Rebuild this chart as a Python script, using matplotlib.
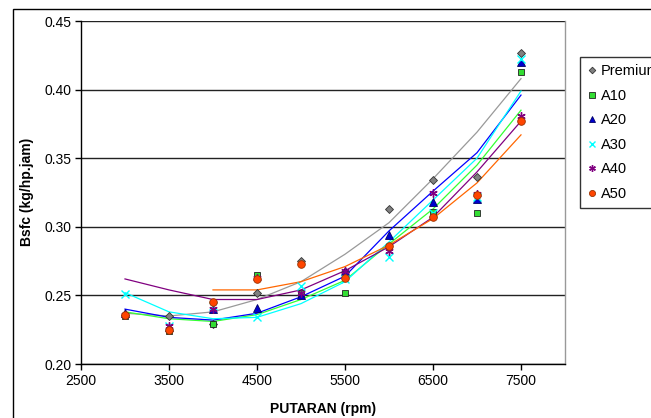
import matplotlib
matplotlib.use("Agg")
import matplotlib.pyplot as plt
import matplotlib.patches as patches

plt.rcParams['font.family'] = ['Liberation Sans', 'DejaVu Sans']

# Measured points (rpm vs bsfc)
rpm = [3000, 3500, 4000, 4500, 5000, 5500, 6000, 6500, 7000, 7500]
premium = [0.236, 0.235, 0.229, 0.252, 0.275, 0.267, 0.313, 0.334, 0.336, 0.427]
a10 = [0.235, 0.224, 0.229, 0.265, 0.252, 0.252, 0.285, 0.311, 0.310, 0.413]
a20 = [0.237, 0.227, 0.240, 0.241, 0.250, 0.268, 0.294, 0.318, 0.320, 0.420]
a30 = [0.251, 0.228, 0.242, 0.234, 0.257, 0.262, 0.278, 0.310, 0.322, 0.422]
a40 = [0.236, 0.228, 0.240, 0.263, 0.252, 0.268, 0.282, 0.325, 0.324, 0.381]
a50 = [0.236, 0.225, 0.245, 0.262, 0.273, 0.263, 0.286, 0.307, 0.323, 0.377]

# Trendlines
trend_rpm = [3000, 3500, 4000, 4500, 5000, 5500, 6000, 6500, 7000, 7500]
trend_rpm_a50 = [4000, 4500, 5000, 5500, 6000, 6500, 7000, 7500]
trend_premium = [0.237, 0.235, 0.238, 0.247, 0.260, 0.280, 0.303, 0.335, 0.369, 0.408]
trend_a10 = [0.238, 0.233, 0.231, 0.236, 0.247, 0.261, 0.2875, 0.313, 0.345, 0.385]
trend_a20 = [0.240, 0.234, 0.232, 0.237, 0.249, 0.264, 0.297, 0.326, 0.354, 0.396]
trend_a30 = [0.252, 0.238, 0.233, 0.234, 0.244, 0.260, 0.289, 0.3195, 0.350, 0.399]
trend_a40 = [0.262, 0.254, 0.247, 0.247, 0.254, 0.268, 0.2855, 0.307, 0.340, 0.377]
trend_a50 = [0.254, 0.254, 0.260, 0.271, 0.2867, 0.306, 0.332, 0.367]

labels = ["Premium", "A10", "A20", "A30", "A40", "A50"]

W, H = 651, 418
fig = plt.figure(figsize=(W / 100, H / 100), dpi=100)
ax = fig.add_axes([81 / W, 1 - 364 / H, (565 - 81) / W, (364 - 21) / H])

# Outer chart border (runs off the right and bottom edge)
fig.patches.append(patches.Rectangle((13 / W, -0.2), 1.2, 1.2 - 9 / H,
                                     transform=fig.transFigure, fill=False,
                                     edgecolor="black", linewidth=1.0))

# Trendlines
ax.plot(trend_rpm, trend_premium, color="#999999", lw=0.9, zorder=2)
ax.plot(trend_rpm, trend_a10, color="#33ff33", lw=0.9, zorder=2)
ax.plot(trend_rpm, trend_a20, color="#0000ff", lw=0.9, zorder=2)
ax.plot(trend_rpm, trend_a30, color="#00ffff", lw=0.9, zorder=2)
ax.plot(trend_rpm, trend_a40, color="#800080", lw=0.9, zorder=2)
ax.plot(trend_rpm_a50, trend_a50, color="#ff6600", lw=0.9, zorder=2)

# Markers
h = []
h += ax.plot(rpm, premium, ls="none", marker="D", ms=4.2, mfc="#808080", mec="#333333", mew=0.6, zorder=4)
h += ax.plot(rpm, a10, ls="none", marker="s", ms=5, mfc="#33dd33", mec="#222222", mew=0.6, zorder=4)
h += ax.plot(rpm, a20, ls="none", marker="^", ms=5.5, mfc="#0000cc", mec="#000066", mew=0.6, zorder=4)
h += ax.plot(rpm, a30, ls="none", marker="x", ms=5.5, mec="#00ffff", mew=1.0, zorder=4)
h += ax.plot(rpm, a40, ls="none", marker=(6, 2, 0), ms=6, mec="#800080", mew=1.0, zorder=4)
h += ax.plot(rpm, a50, ls="none", marker="o", ms=5.5, mfc="#ff4500", mec="#993300", mew=0.6, zorder=4)

ax.set_xlim(2500, 8000)
ax.set_ylim(0.20, 0.45)
ax.set_xticks([2500, 3500, 4500, 5500, 6500, 7500])
ax.set_yticks([0.20, 0.25, 0.30, 0.35, 0.40, 0.45])
ax.set_yticklabels(["%.2f" % v for v in ax.get_yticks()])
ax.yaxis.grid(True, color="#222222", lw=1.0)
ax.set_axisbelow(True)
ax.tick_params(labelsize=10, direction="out", length=4, width=1, pad=3)

for s in ["left", "bottom"]:
    ax.spines[s].set_color("black")
    ax.spines[s].set_linewidth(1.0)
ax.spines["right"].set_color("#999999")
ax.spines["right"].set_linewidth(1.0)
ax.spines["top"].set_visible(False)

fig.text(26.5 / W, 1 - 192 / H, "Bsfc (kg/hp.jam)", rotation=90, ha="center", va="center",
         fontsize=10, fontweight="bold")
fig.text(323 / W, 1 - 409 / H, "PUTARAN (rpm)", ha="center", va="center",
         fontsize=10, fontweight="bold")

# Legend box sits partly outside the figure, as in the reference
leg = fig.legend(h, labels, loc="upper left", bbox_to_anchor=(580 / W, 1 - 57 / H),
                 fontsize=10.5, frameon=True, fancybox=False, handlelength=0.6,
                 handletextpad=0.35, labelspacing=0.72, borderpad=0.5, borderaxespad=0,
                 markerscale=0.8)
leg.get_frame().set_edgecolor("black")
leg.get_frame().set_linewidth(1.0)

fig.savefig("out.png", dpi=100)
